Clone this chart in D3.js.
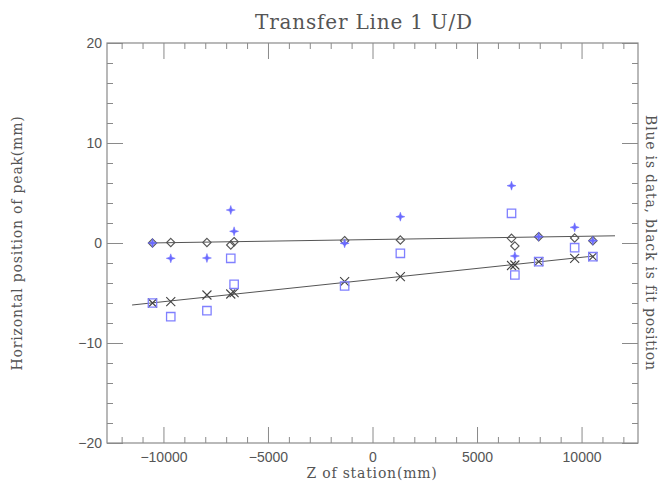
<!doctype html>
<html>
  <head>
    <meta charset="utf-8">
    <title>Transfer Line 1 U/D</title>
    <style>
      * { margin: 0; padding: 0; }
      body { background: #fff; }
      .lbl { font-family: "DejaVu Serif", serif; fill: #555; letter-spacing: 0.8px; }
    </style>
    <script src="https://cdnjs.cloudflare.com/ajax/libs/d3/7.8.5/d3.min.js"></script>
  </head>
  <body>
    <script>
      // station z positions (mm)
      var stationZ = [-10524, -9650, -7920, -6780, -6620, -1333, 1333, 6650, 6810, 7950, 9670, 10540];
      // blue stars = data, black diamonds = fit (upper set)
      var starData = [0.0, -1.53, -1.5, 3.3, 1.17, -0.03, 2.63, 5.73, -1.3, 0.63, 1.57, 0.23];
      var diamondFit = [0.0, 0.05, 0.05, -0.2, 0.13, 0.23, 0.3, 0.47, -0.3, 0.63, 0.5, 0.23];
      // blue squares = data, black crosses = fit (lower set)
      var squareData = [-6.0, -7.37, -6.77, -1.53, -4.13, -4.3, -1.03, 2.97, -3.2, -1.87, -0.47, -1.37];
      var crossFit = [-6.0, -5.87, -5.2, -5.1, -4.97, -3.87, -3.37, -2.25, -2.2, -1.87, -1.53, -1.37];
      // straight fit lines (end points)
      var upperLineZ = [-10700, 11600];
      var upperLineV = [0.0, 0.72];
      var lowerLineZ = [-11500, 10600];
      var lowerLineV = [-6.2, -1.3];

      var xMajor = [-10000, -5000, 0, 5000, 10000];
      var yMajor = [-20, -10, 0, 10, 20];

      var W = 660, H = 484;
      var plotL = 107, plotR = 638, plotT = 43, plotB = 443;

      var svg = d3.select("body").append("svg")
                  .attr("width", W)
                  .attr("height", H);

      var x = d3.scaleLinear().domain([-12700, 12700]).range([plotL, plotR]);
      var y = d3.scaleLinear().domain([-20, 20]).range([plotB, plotT]);

      var xMinor = d3.range(-12000, 12001, 1000).filter(function(v) { return v % 5000 != 0; });
      var yMinor = d3.range(-18, 19, 2).filter(function(v) { return v % 10 != 0; });
      var fmt = d3.format("d");

      function styleAxis(g) {
        g.select(".domain").remove();
        g.selectAll(".tick line").attr("stroke", "#8a8a8a");
        g.selectAll(".tick text")
         .attr("fill", "#555")
         .attr("font-family", "'Liberation Sans', Arial, sans-serif")
         .attr("font-size", 14);
      }

      // bottom
      svg.append("g").attr("transform", "translate(0," + plotB + ")")
         .call(d3.axisBottom(x).tickValues(xMajor).tickSize(-16).tickPadding(9).tickFormat(fmt)).call(styleAxis);
      svg.append("g").attr("transform", "translate(0," + plotB + ")")
         .call(d3.axisBottom(x).tickValues(xMinor).tickSize(-6).tickFormat("")).call(styleAxis);
      // top
      svg.append("g").attr("transform", "translate(0," + plotT + ")")
         .call(d3.axisTop(x).tickValues(xMajor).tickSize(-16).tickFormat("")).call(styleAxis);
      svg.append("g").attr("transform", "translate(0," + plotT + ")")
         .call(d3.axisTop(x).tickValues(xMinor).tickSize(-6).tickFormat("")).call(styleAxis);
      // left
      svg.append("g").attr("transform", "translate(" + plotL + ",0)")
         .call(d3.axisLeft(y).tickValues(yMajor).tickSize(-16).tickPadding(5).tickFormat(fmt)).call(styleAxis);
      svg.append("g").attr("transform", "translate(" + plotL + ",0)")
         .call(d3.axisLeft(y).tickValues(yMinor).tickSize(-6).tickFormat("")).call(styleAxis);
      // right
      svg.append("g").attr("transform", "translate(" + plotR + ",0)")
         .call(d3.axisRight(y).tickValues(yMajor).tickSize(-16).tickFormat("")).call(styleAxis);
      svg.append("g").attr("transform", "translate(" + plotR + ",0)")
         .call(d3.axisRight(y).tickValues(yMinor).tickSize(-6).tickFormat("")).call(styleAxis);

      svg.append("rect")
         .attr("x", plotL).attr("y", plotT)
         .attr("width", plotR - plotL).attr("height", plotB - plotT)
         .attr("fill", "none").attr("stroke", "#8a8a8a").attr("stroke-width", 1.2);

      // fit lines
      var line = d3.line().x(function(d) { return x(d[0]); }).y(function(d) { return y(d[1]); });
      svg.append("path").datum(d3.zip(upperLineZ, upperLineV))
         .attr("d", line).attr("fill", "none").attr("stroke", "#555").attr("stroke-width", 1);
      svg.append("path").datum(d3.zip(lowerLineZ, lowerLineV))
         .attr("d", line).attr("fill", "none").attr("stroke", "#555").attr("stroke-width", 1);

      function diamondPath(r) { return "M0," + (-r) + "L" + r + ",0L0," + r + "L" + (-r) + ",0Z"; }
      function squarePath(r) { return "M" + (-r) + "," + (-r) + "H" + r + "V" + r + "H" + (-r) + "Z"; }
      function crossPath(r) { return "M" + (-r) + "," + (-r) + "L" + r + "," + r + "M" + (-r) + "," + r + "L" + r + "," + (-r); }
      function starPath(r) {
        var w = 1.1;
        return "M0," + (-r) + "L" + w + "," + (-w) + "L" + r + ",0L" + w + "," + w +
               "L0," + r + "L" + (-w) + "," + w + "L" + (-r) + ",0L" + (-w) + "," + (-w) + "Z";
      }

      function plotMarks(vals, path, attrs) {
        var sel = svg.append("g").selectAll("path")
          .data(d3.zip(stationZ, vals))
          .enter().append("path")
          .attr("transform", function(d) { return "translate(" + x(d[0]) + "," + y(d[1]) + ")"; })
          .attr("d", path);
        for (var k in attrs) sel.attr(k, attrs[k]);
      }

      plotMarks(diamondFit, diamondPath(4.2), { fill: "none", stroke: "#555", "stroke-width": 1.1 });
      plotMarks(crossFit, crossPath(4.5), { fill: "none", stroke: "#444", "stroke-width": 1.1 });
      plotMarks(squareData, squarePath(4.2), { fill: "none", stroke: "#8080ff", "stroke-width": 1.3 });
      plotMarks(starData, starPath(4.5), { fill: "#6a6aff", stroke: "#6a6aff", "stroke-width": 0.5 });

      // texts
      svg.append("text").attr("class", "lbl")
         .attr("x", 364).attr("y", 29).attr("text-anchor", "middle")
         .style("font-size", "20px").text("Transfer Line 1 U/D");
      svg.append("text").attr("class", "lbl")
         .attr("x", 372).attr("y", 478).attr("text-anchor", "middle")
         .style("font-size", "14px").text("Z of station(mm)");
      svg.append("text").attr("class", "lbl")
         .attr("transform", "translate(22,243) rotate(-90)").attr("text-anchor", "middle")
         .style("font-size", "14px").text("Horizontal position of peak(mm)");
      svg.append("text").attr("class", "lbl")
         .attr("transform", "translate(646,243) rotate(90)").attr("text-anchor", "middle")
         .style("font-size", "14px").text("Blue is data, black is fit position");
    </script>
  </body>
</html>
